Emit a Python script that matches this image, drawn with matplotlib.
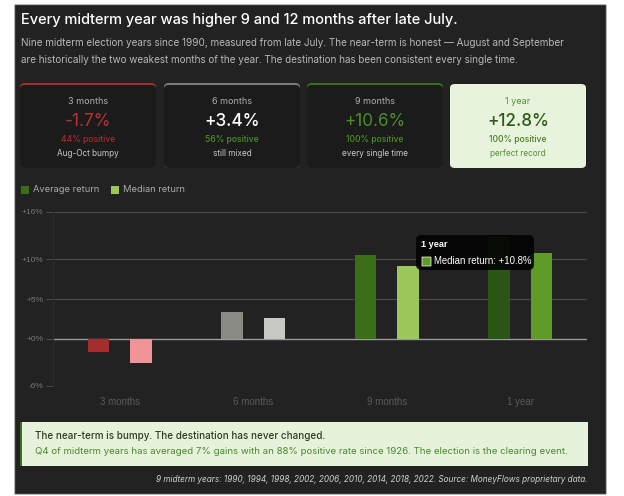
import matplotlib
matplotlib.use("Agg")
import matplotlib.pyplot as plt
from matplotlib.patches import FancyBboxPatch
import numpy as np

# data
periods = ["3 months", "6 months", "9 months", "1 year"]
avg_ret = [-1.7, 3.4, 10.6, 12.8]
med_ret = [-3.1, 2.6, 9.2, 10.8]
pct_pos = ["44% positive", "56% positive", "100% positive", "100% positive"]
notes = ["Aug-Oct bumpy", "still mixed", "every single time", "perfect record"]
yticks = [-6, 0, 5, 10, 16]

avg_cols = ["#a32d2f", "#8a8a84", "#3b6f17", "#2a5514"]
med_cols = ["#ef9597", "#c8c8c3", "#9bc75b", "#5f9b27"]

W, H = 624, 496
fig = plt.figure(figsize=(W / 100, H / 100), dpi=100)
fig.patch.set_facecolor("white")


def fx(x):
    return x / W


def fy(y):
    return 1 - y / H


def box(x0, y0, x1, y1, fc, ec="none", r=0.0, lw=0, z=0):
    p = FancyBboxPatch((fx(x0), fy(y1)), fx(x1 - x0), (y1 - y0) / H,
                       boxstyle=f"round,pad=0,rounding_size={r}",
                       transform=fig.transFigure, fc=fc, ec=ec, lw=lw, zorder=z)
    fig.add_artist(p)
    return p


def txt(x, y, s, **kw):
    kw.setdefault("family", "Inter")
    kw.setdefault("va", "center")
    fig.text(fx(x), fy(y), s, **kw)


# dark panel
box(15, 5, 606, 494, "#222222", ec="#555555", lw=0.6)

txt(21, 20, "Every midterm year was higher 9 and 12 months after late July.",
    color="white", fontsize=10.5, weight="medium")
txt(21, 43, "Nine midterm election years since 1990, measured from late July. The near-term is honest \u2014 August and September",
    color="#b8b8b8", fontsize=7.15)
txt(21, 60, "are historically the two weakest months of the year. The destination has been consistent every single time.",
    color="#b8b8b8", fontsize=7.15)

# stat cards
card_x = [20, 164, 307, 450]
card_w = 136
top_cols = ["#a32d2f", "#7a7a76", "#3b6f17", None]
val_cols = ["#b83234", "#ffffff", "#4a8f26", "#2f5a16"]
pos_cols = ["#a32d2f", "#4a8f26", "#4a8f26", "#4a7f26"]
note_cols = ["#c8c8c8", "#c8c8c8", "#c8c8c8", "#5a8f36"]
lab_cols = ["#b0b0b0", "#b0b0b0", "#b0b0b0", "#5a8f36"]
for i, cx in enumerate(card_x):
    if top_cols[i]:
        box(cx, 83, cx + card_w, 168, top_cols[i], r=0.008, z=1)
        box(cx, 85, cx + card_w, 168, "#1b1b1b", r=0.008, z=2)
    else:
        box(cx, 84, cx + card_w, 168, "#e7f3dd", r=0.008, z=2)
    mid = cx + card_w / 2
    txt(mid, 102, periods[i], color=lab_cols[i], fontsize=6.5, ha="center", zorder=3)
    txt(mid, 122, f"{avg_ret[i]:+.1f}%", color=val_cols[i], fontsize=12.3,
        ha="center", zorder=3, weight="medium" if i in (1, 3) else "normal")
    txt(mid, 140, pct_pos[i], color=pos_cols[i], fontsize=6.2, ha="center",
        zorder=3, weight="medium")
    txt(mid, 153, notes[i], color=note_cols[i], fontsize=5.9, ha="center", zorder=3)

# legend
box(21, 186, 29, 194, avg_cols[2], z=2)
txt(33, 190, "Average return", color="#aaaaaa", fontsize=6.7)
box(111, 186, 119, 194, med_cols[2], z=2)
txt(123, 190, "Median return", color="#aaaaaa", fontsize=6.7)

# bar chart
ax = fig.add_axes([fx(53), fy(386), fx(587 - 53), (386 - 212) / H])
ax.set_facecolor("none")
x = np.arange(len(periods))
bw = 0.16
ax.bar(x - 0.16, avg_ret, bw, color=avg_cols, zorder=3)
ax.bar(x + 0.16, med_ret, bw, color=med_cols, zorder=3)
ax.set_xlim(-0.5, 3.5)
ax.set_ylim(-6, 16)
ax.set_yticks(yticks)
ax.set_yticklabels([f"{v:+d}%" if v != 0 else "+0%" for v in yticks],
                   family="Liberation Sans", fontsize=6, color="#777777")
for v in yticks:
    ax.axhline(v, color="#9a9a9a" if v == 0 else "#4c4c4c",
               lw=1.0 if v == 0 else 0.8, zorder=1)
ax.set_xticks(x)
ax.set_xticklabels(periods, family="Liberation Sans", fontsize=7, color="#5a5a5a")
ax.tick_params(axis="y", length=5, color="#555555", width=0.6, pad=2)
ax.tick_params(axis="x", length=0, pad=8)
for s in ["top", "right", "bottom"]:
    ax.spines[s].set_visible(False)
ax.spines["left"].set_color("#2c2c2c")

# hover tooltip on the 1-year median bar
box(416, 235, 534, 270, "black", r=0.01, z=5).set_alpha(0.85)
txt(421, 245, "1 year", color="white", fontsize=6.6, weight="bold",
    family="Liberation Sans", zorder=6)
box(422, 257, 431, 266, med_cols[3], ec="white", lw=0.5, z=6)
txt(434, 261.5, f"Median return: {med_ret[3]:+.1f}%", color="white", fontsize=6.9,
    family="Liberation Sans", zorder=6)

# callout
box(20, 422, 588, 466, "#e6f2dc", z=2)
box(20, 422, 22, 466, "#3b6f17", z=3)
txt(35, 436, "The near-term is bumpy. The destination has never changed.",
    color="#2a3f1c", fontsize=7.1, weight="medium", zorder=4)
txt(35, 452, "Q4 of midterm years has averaged 7% gains with an 88% positive rate since 1926. The election is the clearing event.",
    color="#4a8a2a", fontsize=6.95, zorder=4)

txt(588, 479, "9 midterm years: 1990, 1994, 1998, 2002, 2006, 2010, 2014, 2018, 2022. Source: MoneyFlows proprietary data.",
    color="#d0d0d0", fontsize=5.9, style="italic", ha="right")

fig.savefig("out.png", dpi=100, facecolor=fig.get_facecolor())
